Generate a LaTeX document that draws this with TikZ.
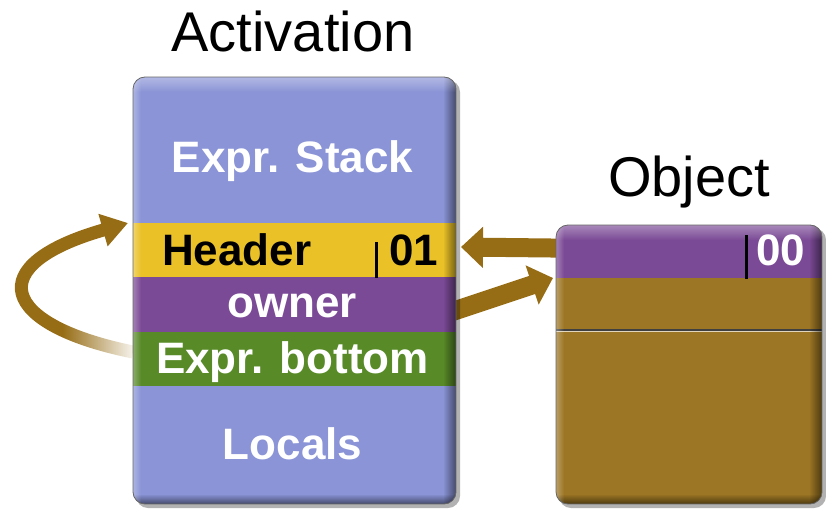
\documentclass[tikz,border=0pt]{standalone}
\usepackage{fontspec}
\setmainfont{Liberation Sans}
\usetikzlibrary{arrows.meta,fadings,calc}

\definecolor{stackc}{RGB}{138,148,214}
\definecolor{headc}{RGB}{234,194,40}
\definecolor{ownerc}{RGB}{123,74,150}
\definecolor{bottomc}{RGB}{88,138,40}
\definecolor{objc}{RGB}{156,118,36}
\definecolor{arrowc}{RGB}{150,108,20}

\pgfdeclarelayer{back}
\pgfsetlayers{back,main}

\tikzset{
  band/.style={rectangle, inner sep=0pt, outer sep=0pt, anchor=north west, draw=none},
  lbl/.style={font=\fontsize{44}{44}\selectfont\bfseries, text=white, inner sep=0pt, anchor=base},
  ttl/.style={font=\fontsize{56}{56}\selectfont, inner sep=0pt, anchor=base},
  tagbar/.style={line width=3pt, black},
  fatarrow/.style={draw=arrowc, line width=19pt, -{Triangle[length=22pt,width=40pt]}},
  looparrow/.style={draw=arrowc, line width=13pt, -{Triangle[length=26pt,width=32pt]}},
  boxshadow/.style={fill=black, opacity=0.3, rounded corners=12pt},
}

\begin{document}
\begin{tikzpicture}[x=1pt,y=-1pt]
\path[use as bounding box] (0,0) rectangle (826,508);

% titles
\node[ttl] (acttitle) at (293,52) {Activation};
\node[ttl] (objtitle) at (689,196) {Object};

% ---------------- activation record ----------------
\fill[boxshadow] (136,80) rectangle (460,508);
\begin{scope}
  \clip[rounded corners=12pt] (133,77) rectangle (456,504);
  \node[band, fill=stackc,  minimum width=323pt, minimum height=146pt] (stack)   at (133,77)  {};
  \node[band, fill=headc,   minimum width=323pt, minimum height=54pt]  (header)  at (133,223) {};
  \node[band, fill=ownerc,  minimum width=323pt, minimum height=55pt]  (owner)   at (133,277) {};
  \node[band, fill=bottomc, minimum width=323pt, minimum height=54pt]  (ebottom) at (133,332) {};
  \node[band, fill=stackc,  minimum width=323pt, minimum height=118pt] (locals)  at (133,386) {};
  % bevel: dark right and bottom edges, light top and left edges
  \fill[black, opacity=0.5, path fading=west]  (443,77) rectangle (456,504);
  \fill[black, opacity=0.5, path fading=north] (133,494) rectangle (456,504);
  \fill[white, opacity=0.35, path fading=south] (133,77) rectangle (456,92);
  \fill[white, opacity=0.3, path fading=east]  (133,77) rectangle (141,504);
\end{scope}
\draw[black!60, line width=0.8pt, rounded corners=12pt] (133,77) rectangle (456,504);

% activation labels
\node[lbl] (stacklbl) at (292.5,172) {Expr. Stack};
\node[lbl, text=black, anchor=base west] (headlbl) at (162,265) {Header};
\node[lbl, text=black, anchor=base west] (headtag) at (389,265) {01};
\draw[tagbar] (376.5,242) -- (376.5,278);
\node[lbl] (ownerlbl) at (292,317) {owner};
\node[lbl] (bottomlbl) at (292.5,373) {Expr. bottom};
\node[lbl] (localslbl) at (292.5,459) {Locals};

% ---------------- object ----------------
\fill[boxshadow] (559,228) rectangle (826,508);
\begin{scope}
  \clip[rounded corners=12pt] (556,225) rectangle (822,504);
  \node[band, fill=ownerc, minimum width=266pt, minimum height=53pt]  (objhead) at (556,225) {};
  \node[band, fill=objc,   minimum width=266pt, minimum height=226pt] (objbody) at (556,278) {};
  % divider between the two fields of the body
  \draw[black!75, line width=1.5pt] (556,330) -- (822,330);
  \draw[white!70!objc, line width=1pt] (556,331.8) -- (822,331.8);
  \fill[black, opacity=0.5, path fading=west]  (809,225) rectangle (822,504);
  \fill[black, opacity=0.5, path fading=north] (556,494) rectangle (822,504);
  \fill[white, opacity=0.35, path fading=south] (556,225) rectangle (822,240);
  \fill[white, opacity=0.3, path fading=east]  (556,225) rectangle (564,504);
\end{scope}
\draw[black!60, line width=0.8pt, rounded corners=12pt] (556,225) rectangle (822,504);
\node[lbl, anchor=base west] (objtag) at (756,265) {00};
\draw[tagbar] (746.5,235) -- (746.5,279);

% ---------------- arrows (behind the boxes) ----------------
\begin{pgfonlayer}{back}
  % loop from the expression bottom back up to the header
  \draw[looparrow] ([yshift=7pt]ebottom.west) .. controls (0,325) and (-20,265) .. ([xshift=-5pt]header.north west);
  \fill[white, fill opacity=0.92, path fading=west] (62,318) rectangle (133,374);
  % object header -> activation header
  \draw[fatarrow] ([xshift=40pt,yshift=3pt]objhead.west) -- ([xshift=5pt,yshift=3pt]header.east);
  % owner -> object
  \draw[fatarrow] ([xshift=-20pt,yshift=-12.5pt]owner.east) -- ([xshift=-3pt]objhead.south west);
\end{pgfonlayer}
\end{tikzpicture}
\end{document}
